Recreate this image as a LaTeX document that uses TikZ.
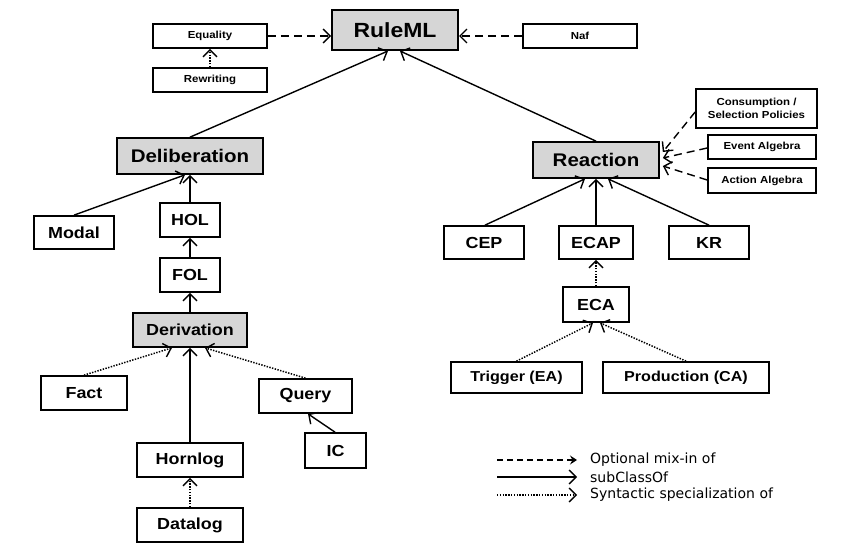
\documentclass[tikz,border=0pt]{standalone}
\usepackage{fontspec}
\setmainfont{Liberation Sans}[FakeStretch=1.12]
\newfontfamily\legendfont{DejaVu Sans}
\usetikzlibrary{arrows.meta,calc}
\tikzset{
  box/.style={draw=black, line width=1.7pt, fill=white, inner sep=0pt, align=center, font=\bfseries\fontsize{16}{18}\selectfont},
  graybox/.style={box, fill=black!16},
  smallbox/.style={box, font=\bfseries\fontsize{10.2}{12.5}\selectfont},
  tip/.style={-{Straight Barb[length=7pt,width=14pt,line width=1.4pt]}},
  sub/.style={tip, line width=1.4pt},
  mix/.style={tip, line width=1.4pt, dash pattern=on 8pt off 5pt},
  syn/.style={tip, line width=1.5pt, dash pattern=on 1.4pt off 1.4pt},
  legtext/.style={anchor=west, inner sep=0pt, font=\legendfont\fontsize{14}{16}\selectfont}
}
\begin{document}
\begin{tikzpicture}[x=1pt,y=-1pt]
\useasboundingbox[fill=white] (0,0) rectangle (860,551);
% nodes
\node[graybox, minimum width=126pt, minimum height=40pt, line width=2pt, font=\bfseries\fontsize{20.5}{24}\selectfont] (ruleml) at (395,30) {RuleML};
\node[smallbox, minimum width=114pt, minimum height=24pt] (equality) at (210,36) {Equality};
\node[smallbox, minimum width=114pt, minimum height=24pt] (rewriting) at (210,80) {Rewriting};
\node[smallbox, minimum width=114pt, minimum height=24pt] (naf) at (580,36) {Naf};

\node[graybox, minimum width=146pt, minimum height=36pt, font=\bfseries\fontsize{18.3}{22}\selectfont] (delib) at (190,156) {Deliberation};
\node[box, minimum width=80pt, minimum height=33pt] (modal) at (74,232.5) {Modal};
\node[box, minimum width=60pt, minimum height=34pt] (hol) at (190,220) {HOL};
\node[box, minimum width=60pt, minimum height=34pt] (fol) at (190,275) {FOL};
\node[graybox, minimum width=114pt, minimum height=34pt] (deriv) at (190,330) {Derivation};
\node[box, minimum width=86pt, minimum height=34pt] (fact) at (84,393) {Fact};
\node[box, minimum width=93pt, minimum height=34pt] (query) at (305.5,396) {Query};
\node[box, minimum width=61pt, minimum height=35pt] (ic) at (335.5,450.5) {IC};
\node[box, minimum width=106pt, minimum height=34pt] (hornlog) at (190,460) {Hornlog};
\node[box, minimum width=106pt, minimum height=34pt] (datalog) at (190,525) {Datalog};

\node[graybox, minimum width=126pt, minimum height=36pt, font=\bfseries\fontsize{18.3}{22}\selectfont] (reaction) at (596,160) {Reaction};
\node[smallbox, minimum width=121pt, minimum height=39pt] (consum) at (756.5,108.5) {Consumption /\\Selection Policies};
\node[smallbox, minimum width=108pt, minimum height=24pt] (evalg) at (762,147) {Event Algebra};
\node[smallbox, minimum width=108pt, minimum height=25pt] (acalg) at (762,180.5) {Action Algebra};
\node[box, minimum width=80pt, minimum height=33pt] (cep) at (484,242.5) {CEP};
\node[box, minimum width=74pt, minimum height=33pt] (ecap) at (596,242.5) {ECAP};
\node[box, minimum width=80pt, minimum height=33pt] (kr) at (709,242.5) {KR};
\node[box, minimum width=66pt, minimum height=35pt] (eca) at (596,304.5) {ECA};
\node[box, minimum width=131pt, minimum height=31pt, font=\bfseries\fontsize{14.4}{17}\selectfont] (trigger) at (516.5,377.5) {Trigger (EA)};
\node[box, minimum width=166pt, minimum height=31pt, font=\bfseries\fontsize{14.4}{17}\selectfont] (prod) at (686,377.5) {Production (CA)};

% connectors top
\draw[mix] (equality.east) -- (ruleml.west |- equality.east);
\draw[mix] (naf.west) -- (ruleml.east |- naf.west);
\draw[syn] (rewriting.north) -- (equality.south);
\draw[sub] (delib.north) -- ($(ruleml.south)+(-7,0)$);
\draw[sub] (reaction.north) -- ($(ruleml.south)+(5,0)$);

% left branch
\draw[sub] (modal.north) -- ($(delib.south)+(-5,0)$);
\draw[sub] (hol.north) -- (delib.south);
\draw[sub] (fol.north) -- (hol.south);
\draw[sub] (deriv.north) -- (fol.south);
\draw[syn] (fact.north) -- ($(deriv.south)+(-18,0)$);
\draw[syn] (query.north) -- ($(deriv.south)+(15,0)$);
\draw[sub] (hornlog.north) -- (deriv.south);
\draw[sub] ($(ic.north)+(-0.5,0)$) -- ($(query.south)+(2.5,0)$);
\draw[syn] (datalog.north) -- (hornlog.south);

% right branch
\draw[mix] ($(consum.west)+(0,3.5)$) -- ($(reaction.east)+(3,-8)$);
\draw[mix] ($(evalg.west)+(0,1)$) -- ($(reaction.east)+(3,-2)$);
\draw[mix] ($(acalg.west)+(0,-0.5)$) -- ($(reaction.east)+(3,6)$);
\draw[sub] ($(cep.north)+(1,0)$) -- ($(reaction.south)+(-11,0)$);
\draw[sub] (ecap.north) -- (reaction.south);
\draw[sub] (kr.north) -- ($(reaction.south)+(12,0)$);
\draw[syn] (eca.north) -- (ecap.south);
\draw[syn] (trigger.north) -- ($(eca.south)+(-3,0)$);
\draw[syn] (prod.north) -- ($(eca.south)+(4,0)$);

% legend
\coordinate (l1a) at (497,460);
\coordinate (l1b) at (577,460);
\coordinate (l2a) at (497,477);
\coordinate (l2b) at (577,477);
\coordinate (l3a) at (497,495);
\coordinate (l3b) at (577,495);
\draw[line width=1.4pt, dash pattern=on 6pt off 4pt, -{Stealth[length=7pt,width=9pt,inset=2.5pt]}] (l1a) -- (l1b);
\draw[sub] (l2a) -- (l2b);
\draw[syn] (l3a) -- (l3b);
\node[legtext] (t1) at (590,460) {Optional mix-in of};
\node[legtext] (t2) at (590,477) {subClassOf};
\node[legtext] (t3) at (590,495) {Syntactic specialization of};
\end{tikzpicture}
\end{document}
